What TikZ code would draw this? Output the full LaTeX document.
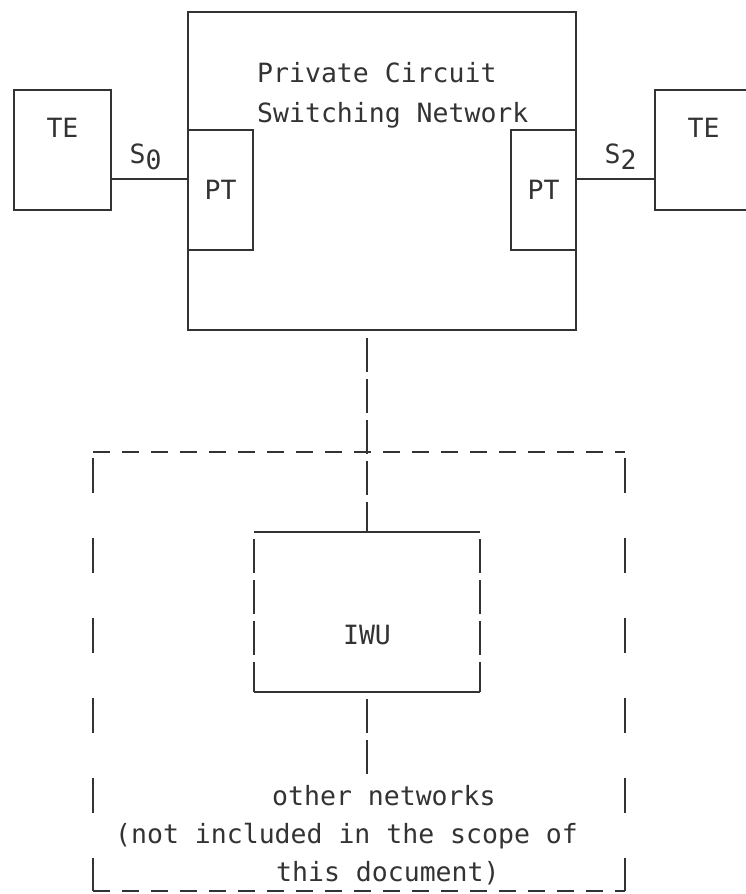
\documentclass[tikz,border=0pt]{standalone}
\usepackage{fontspec}
\setmainfont{DejaVu Sans Mono}
\usetikzlibrary{calc}

\definecolor{ink}{HTML}{333333}
\newcommand{\lowdig}[1]{\raisebox{-0.45ex}{#1}}

\begin{document}
\begin{tikzpicture}[x=1pt, y=-1pt,
  box/.style={rectangle, draw=ink, line width=2.1pt, inner sep=0pt, text=ink, font=\fontsize{26.5}{31}\selectfont},
  wire/.style={draw=ink, line width=2.1pt},
  longdash/.style={wire, dash pattern=on 34pt off 7pt, dash phase=34pt},
  sidedash/.style={wire, dash pattern=on 35pt off 45pt, dash phase=74pt},
  edgedash/.style={wire, dash pattern=on 17pt off 12pt},
  txt/.style={inner sep=0pt, text=ink, font=\fontsize{26.5}{38}\selectfont},
]
\useasboundingbox (0,0) rectangle (746,894);
\clip (0,0) rectangle (746,894);

% === PRIVATE NETWORK ===
\node[box, minimum width=388pt, minimum height=318pt] (pcsn) at (382, 171) {};
\node[txt, align=left, anchor=base west, font=\fontsize{26.5}{40}\selectfont] (pcsntxt) at (257, 122) {Private Circuit\\Switching Network};

\node[box, minimum width=65pt, minimum height=120pt] (ptl) at (220.5, 190) {PT};
\node[box, minimum width=65pt, minimum height=120pt] (ptr) at (543.5, 190) {PT};

\node[box, minimum width=97pt, minimum height=120pt, label={[txt, yshift=22pt]center:TE}] (tel) at (62.5, 150) {};
\node[box, minimum width=97pt, minimum height=120pt, label={[txt, yshift=22pt]center:TE}] (ter) at (703.5, 150) {};

\draw[wire] ([yshift=-29pt]tel.east) -- ([yshift=-29pt]tel.east -| pcsn.west)
  node[txt, midway, above=8pt, xshift=-4pt] (s0) {S\lowdig{0}};
\draw[wire] ([yshift=-29pt]ter.west -| pcsn.east) -- ([yshift=-29pt]ter.west)
  node[txt, midway, above=8pt, xshift=5pt] (s2) {S\lowdig{2}};

% === OTHER NETWORKS ===
\node[minimum width=532pt, minimum height=439pt, inner sep=0pt] (scope) at (359, 671.5) {};
\draw[edgedash] (scope.north west) -- (scope.north east);
\draw[edgedash] (scope.south west) -- (scope.south east);
\draw[sidedash] (scope.north west) -- (scope.south west);
\draw[sidedash] (scope.north east) -- (scope.south east);

\node[minimum width=226pt, minimum height=160pt, inner sep=0pt, label={[txt, yshift=-23pt]center:IWU}] (iwu) at (367, 612) {};
\draw[wire] (iwu.north west) -- (iwu.north east);
\draw[wire] (iwu.south west) -- (iwu.south east);
\draw[longdash] (iwu.north west) -- (iwu.south west);
\draw[longdash] (iwu.north east) -- (iwu.south east);

\draw[longdash] (iwu.north |- pcsn.south) -- (iwu.north);
\coordinate (tail) at (367, 774);
\draw[longdash] (iwu.south) -- (tail);

\node[txt, align=left, anchor=base west] (othtxt) at (115, 881)
  {\hspace*{157pt}other networks\\(not included in the scope of\\\hspace*{161pt}this document)};
\end{tikzpicture}
\end{document}
